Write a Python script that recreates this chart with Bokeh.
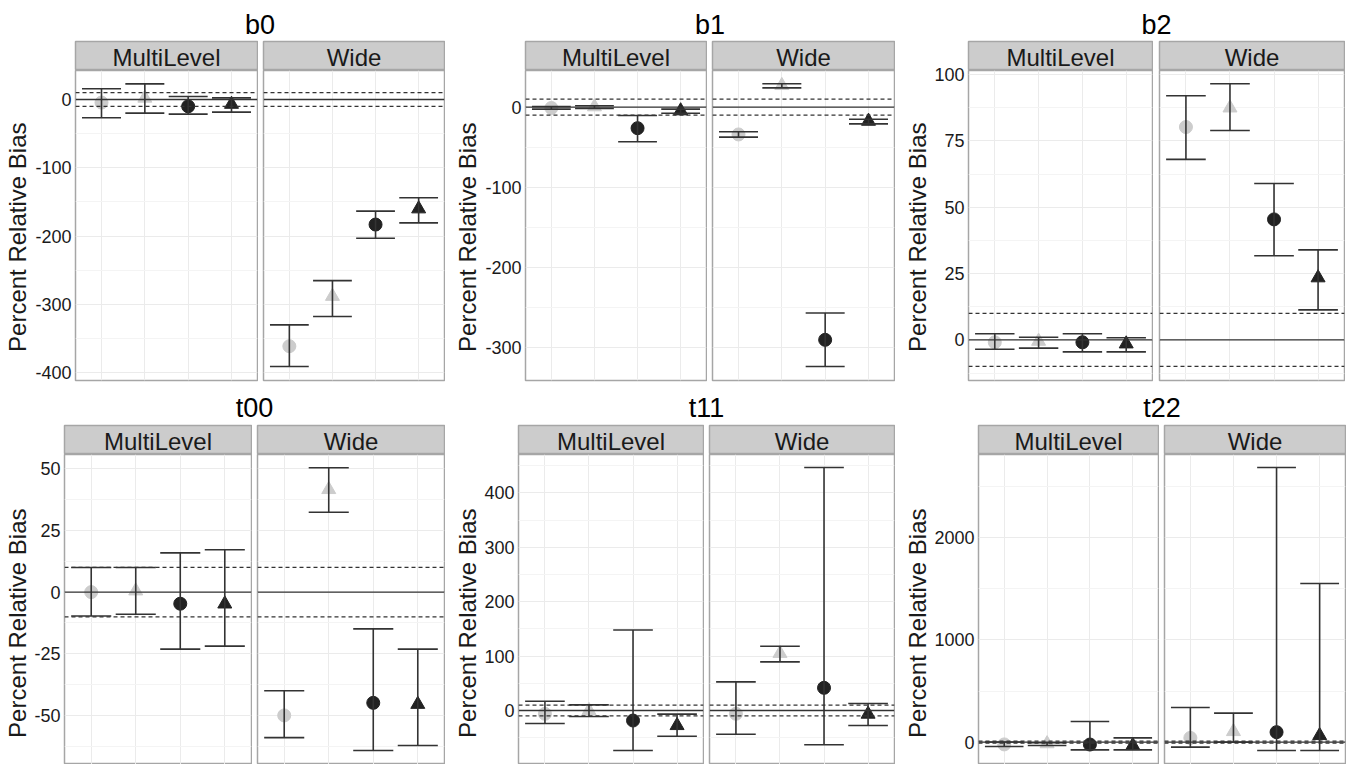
import math
from bokeh.plotting import figure
from bokeh.models import Range1d, FixedTicker, Span, Spacer, ColumnDataSource
from bokeh.layouts import row, column
from bokeh.core.properties import value
from bokeh.embed import file_html
from bokeh.resources import INLINE

FONT = "Liberation Sans"

# ---------------- data ----------------
params = ["b0", "b1", "b2", "t00", "t11", "t22"]
methods = ["MultiLevel", "Wide"]
y_title = "Percent Relative Bias"
conditions = [1, 2, 3, 4]
cond_markers = ["circle", "triangle", "circle", "triangle"]
cond_colors = ["#cccccc", "#cccccc", "#222222", "#222222"]

b0_ml_est = [-4.5, 2, -10, -7]
b0_ml_lo = [-26.8, -20, -21.5, -18.5]
b0_ml_hi = [15.6, 22.9, 4.4, 2.4]
b0_wide_est = [-361, -288, -183, -160]
b0_wide_lo = [-390.7, -317.6, -203, -180.5]
b0_wide_hi = [-329.8, -265, -163.4, -143.9]

b1_ml_est = [-1, 0.5, -26.2, -4.5]
b1_ml_lo = [-2.5, -1.7, -43.2, -7.5]
b1_ml_hi = [0.8, 1.7, -10.4, -2.5]
b1_wide_est = [-34, 27, -290, -17.5]
b1_wide_lo = [-37.4, 24.1, -323.3, -20.8]
b1_wide_hi = [-30.7, 29.1, -256.5, -15]

b2_ml_est = [-0.9, -0.5, -0.9, -1.5]
b2_ml_lo = [-3.5, -3.1, -4.5, -4.5]
b2_ml_hi = [2.3, 1.0, 2.3, 0.8]
b2_wide_est = [80.2, 87.4, 45.4, 23.4]
b2_wide_lo = [68.0, 78.9, 31.7, 11.3]
b2_wide_hi = [92.0, 96.5, 58.9, 33.9]

t00_ml_est = [0, 0.5, -4.7, -4.8]
t00_ml_lo = [-9.7, -9, -23.1, -21.9]
t00_ml_hi = [10, 10, 15.9, 17.2]
t00_wide_est = [-50, 41.6, -44.9, -45.5]
t00_wide_lo = [-59, 32.4, -64.2, -62.2]
t00_wide_hi = [-40, 50.4, -14.9, -23.1]

t11_ml_est = [-6, 0, -18.4, -27.6]
t11_ml_lo = [-24, -11, -73.5, -47.2]
t11_ml_hi = [17, 10.4, 148, -6.7]
t11_wide_est = [-6, 105, 41.7, -6.7]
t11_wide_lo = [-43.5, 89.4, -63, -27.6]
t11_wide_hi = [52.7, 118, 446.6, 12.9]

t22_ml_est = [-22, -15, -23, -33]
t22_ml_lo = [-42, -33, -75, -75]
t22_ml_hi = [2, -6, 202, 42]
t22_wide_est = [42, 104, 98, 65]
t22_wide_lo = [-49, 0, -82, -82]
t22_wide_hi = [339, 284, 2688, 1553]

ref_solid = 0
ref_dashed = [-10, 10]

data = {
    "b0": {"MultiLevel": (b0_ml_est, b0_ml_lo, b0_ml_hi), "Wide": (b0_wide_est, b0_wide_lo, b0_wide_hi)},
    "b1": {"MultiLevel": (b1_ml_est, b1_ml_lo, b1_ml_hi), "Wide": (b1_wide_est, b1_wide_lo, b1_wide_hi)},
    "b2": {"MultiLevel": (b2_ml_est, b2_ml_lo, b2_ml_hi), "Wide": (b2_wide_est, b2_wide_lo, b2_wide_hi)},
    "t00": {"MultiLevel": (t00_ml_est, t00_ml_lo, t00_ml_hi), "Wide": (t00_wide_est, t00_wide_lo, t00_wide_hi)},
    "t11": {"MultiLevel": (t11_ml_est, t11_ml_lo, t11_ml_hi), "Wide": (t11_wide_est, t11_wide_lo, t11_wide_hi)},
    "t22": {"MultiLevel": (t22_ml_est, t22_ml_lo, t22_ml_hi), "Wide": (t22_wide_est, t22_wide_lo, t22_wide_hi)},
}

# y-axis configuration per panel: (range, major ticks, minor ticks)
yconf = {
    "b0": ((-411.2, 42.4), [-400, -300, -200, -100, 0], [-350, -250, -150, -50]),
    "b1": ((-340.7, 45.7), [-300, -200, -100, 0], [-250, -150, -50]),
    "b2": ((-15.3, 101.5), [0, 25, 50, 75, 100], [-12.5, 12.5, 37.5, 62.5, 87.5]),
    "t00": ((-69.9, 55.8), [-50, -25, 0, 25, 50], [-62.5, -37.5, -12.5, 12.5, 37.5]),
    "t11": ((-99.2, 470.4), [0, 100, 200, 300, 400], [-50, 50, 150, 250, 350, 450]),
    "t22": ((-218.6, 2815.6), [0, 1000, 2000], [500, 1500, 2500]),
}

# ---------------- layout geometry (page px) ----------------
# panel start, MultiLevel frame (left, right), Wide frame (left, right)
geom = {
    "b0": (0, (75, 257), (263, 444)),
    "b1": (450, (525, 706), (712, 894)),
    "b2": (900, (968, 1152), (1159, 1344)),
    "t00": (0, (64, 251), (257, 444)),
    "t11": (450, (518, 703), (709, 894)),
    "t22": (900, (978, 1158), (1164, 1345)),
}
LABEL_W = 32

GRID_MAJOR = "#ebebeb"
GRID_MINOR = "#f4f4f4"
BORDER = "#a6a6a6"
INK = "#333333"


def base_fig(width, height, xr, yr, bl=0, br=0, bt=0, bb=0, yaxis=False):
    p = figure(width=width, height=height, x_range=xr, y_range=yr,
               output_backend="svg", toolbar_location=None,
               x_axis_location=None, y_axis_location="left" if yaxis else None,
               min_border_left=bl, min_border_right=br,
               min_border_top=bt, min_border_bottom=bb)
    p.background_fill_color = "white"
    p.border_fill_color = "white"
    p.outline_line_color = None
    return p


def title_fig(name, width, height, yc):
    p = base_fig(width, height, Range1d(0, 1), Range1d(0, height))
    p.grid.visible = False
    p.text(x=[0.5], y=[yc], text=[name], text_align="center", text_baseline="middle",
           text_font=value(FONT), text_font_size="27px", text_color="#000000")
    return p


def strip_fig(label, frame_w, height):
    p = base_fig(frame_w + 2, height, Range1d(0, 1), Range1d(0, height - 1), bl=1, br=1, bt=1, bb=0)
    p.background_fill_color = "#cccccc"
    p.outline_line_color = BORDER
    p.outline_line_width = 1.5
    p.grid.visible = False
    p.text(x=[0.5], y=[13.5], text=[label], text_align="center", text_baseline="middle",
           text_font=value(FONT), text_font_size="24px", text_color="#1a1a1a")
    return p


def ylabel_fig(height, yc):
    p = base_fig(LABEL_W, height, Range1d(0, LABEL_W), Range1d(0, height))
    p.grid.visible = False
    p.text(x=[17], y=[yc], text=[y_title], angle=math.pi / 2, text_align="center",
           text_baseline="middle", text_font=value(FONT), text_font_size="24px",
           text_color="#1a1a1a")
    return p


def axis_fig(param, width, height, bt, bb):
    (ylo, yhi), major, minor = yconf[param]
    p = base_fig(width, height, Range1d(0, 1), Range1d(ylo, yhi),
                 bl=width - 1, br=0, bt=bt, bb=bb, yaxis=True)
    p.grid.visible = False
    ax = p.yaxis[0]
    ax.ticker = FixedTicker(ticks=major, minor_ticks=minor)
    ax.major_label_overrides = {t: f"{t:g}" for t in major}
    ax.major_label_text_font = FONT
    ax.major_label_text_font_size = "18px"
    ax.major_label_text_color = "#1a1a1a"
    ax.major_label_standoff = 3
    ax.axis_line_color = None
    ax.major_tick_line_color = None
    ax.minor_tick_line_color = None
    ax.major_tick_out = 0
    ax.minor_tick_out = 0
    return p


def facet_fig(param, method, width, height, bb):
    (ylo, yhi), major, minor = yconf[param]
    p = base_fig(width, height, Range1d(0.4, 4.6), Range1d(ylo, yhi),
                 bl=1, br=1, bt=0, bb=bb)
    p.outline_line_color = BORDER
    p.outline_line_width = 1.5
    p.xgrid.ticker = FixedTicker(ticks=conditions)
    p.xgrid.grid_line_color = GRID_MAJOR
    p.xgrid.grid_line_width = 1
    p.ygrid.ticker = FixedTicker(ticks=major, minor_ticks=minor)
    p.ygrid.grid_line_color = GRID_MAJOR
    p.ygrid.grid_line_width = 1
    p.ygrid.minor_grid_line_color = GRID_MINOR
    p.ygrid.minor_grid_line_width = 1

    est, lo, hi = data[param][method]
    src = ColumnDataSource(dict(
        x=conditions, est=est, lo=lo, hi=hi,
        xl=[c - 0.45 for c in conditions], xr=[c + 0.45 for c in conditions],
        marker=cond_markers, color=cond_colors,
        size=[13 if m == "circle" else 14 for m in cond_markers],
    ))
    p.scatter(x="x", y="est", marker="marker", size="size", fill_color="color",
              line_color="color", source=src)
    p.segment(x0="x", y0="lo", x1="x", y1="hi", line_color=INK, line_width=1.6, source=src)
    p.segment(x0="xl", y0="hi", x1="xr", y1="hi", line_color=INK, line_width=1.6, source=src)
    p.segment(x0="xl", y0="lo", x1="xr", y1="lo", line_color=INK, line_width=1.6, source=src)

    p.add_layout(Span(location=ref_solid, dimension="width", line_color=INK, line_width=1.3))
    for d in ref_dashed:
        p.add_layout(Span(location=d, dimension="width", line_color=INK, line_width=1.2,
                          line_dash="4 3"))
    return p


def build_panel(name, sh, fh, bb):
    P0, (ml_l, ml_r), (w_l, w_r) = geom[name]
    H = sh + fh
    label = ylabel_fig(H, (fh + bb) / 2)
    axis = axis_fig(name, (ml_l - 1) - (P0 + LABEL_W), H, sh, bb)
    left = ml_l - 1
    strips = [strip_fig(methods[0], ml_r - ml_l, sh)]
    facets = [facet_fig(name, methods[0], ml_r - ml_l + 2, fh, bb)]
    gap = (w_l - 1) - (ml_r + 1)
    if gap > 0:
        strips.append(Spacer(width=gap, height=sh))
        facets.append(Spacer(width=gap, height=fh))
    strips.append(strip_fig(methods[1], w_r - w_l, sh))
    facets.append(facet_fig(name, methods[1], w_r - w_l + 2, fh, bb))
    return row(label, axis, column(row(*strips), row(*facets)))


def build_block(names, th, tyc, sh, fh, bb):
    trow, prow = [], []
    ct = cp = 0
    for name in names:
        P0, (ml_l, ml_r), (w_l, w_r) = geom[name]
        if ml_l - ct > 0:
            trow.append(Spacer(width=ml_l - ct, height=th))
        trow.append(title_fig(name, w_r - ml_l, th, tyc))
        ct = w_r
        if P0 - cp > 0:
            prow.append(Spacer(width=P0 - cp, height=sh + fh))
        prow.append(build_panel(name, sh, fh, bb))
        cp = w_r + 1
    return [row(*trow), row(*prow)]


blocks = (build_block(params[:3], 40, 16, 30, 314, 4)
          + build_block(params[3:], 40, 17, 30, 310, 0))
layout = column(*blocks)

open("out.html", "w").write(file_html(layout, INLINE))
